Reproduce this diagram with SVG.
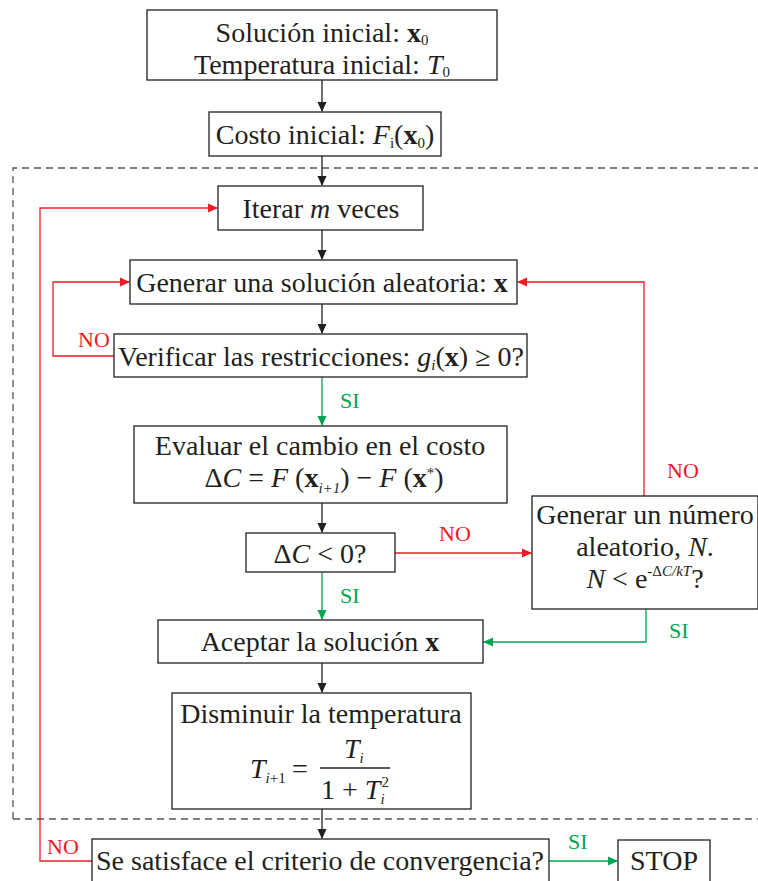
<svg xmlns="http://www.w3.org/2000/svg" width="758" height="881" viewBox="0 0 758 881">
<style>
text{font-family:"Liberation Serif","Times New Roman",serif;font-size:28px;fill:#231f20}
.box{fill:#fff;stroke:#231f20;stroke-width:1.3}
.k{stroke:#231f20;stroke-width:1.3;fill:none}
.r{stroke:#ed1c24;stroke-width:1.3;fill:none}
.g{stroke:#00a651;stroke-width:1.3;fill:none}
.lr{fill:#ed1c24;font-size:22px}
.lg{fill:#00a651;font-size:22px}
.i{font-style:italic}
.b{font-weight:bold}
.s{font-size:15px}
</style>
<defs>
<marker id="ak" markerWidth="10" markerHeight="10" refX="9" refY="5" orient="auto" markerUnits="userSpaceOnUse"><path d="M0,0.5 L10,5 L0,9.5 Z" fill="#231f20"/></marker>
<marker id="ar" markerWidth="10" markerHeight="10" refX="9" refY="5" orient="auto" markerUnits="userSpaceOnUse"><path d="M0,0.5 L10,5 L0,9.5 Z" fill="#ed1c24"/></marker>
<marker id="ag" markerWidth="10" markerHeight="10" refX="9" refY="5" orient="auto" markerUnits="userSpaceOnUse"><path d="M0,0.5 L10,5 L0,9.5 Z" fill="#00a651"/></marker>
</defs>
<rect width="758" height="881" fill="#fff"/>
<path d="M13,819 V168 H758 M13,819 H758" fill="none" stroke="#555" stroke-width="1.3" stroke-dasharray="7,5"/>
<g id="connectors">
<path class="k" d="M322,80 V111" marker-end="url(#ak)"/>
<path class="k" d="M322,156 V185" marker-end="url(#ak)"/>
<path class="k" d="M322,230 V259" marker-end="url(#ak)"/>
<path class="k" d="M322,304 V333" marker-end="url(#ak)"/>
<path class="g" d="M322,377 V425" marker-end="url(#ag)"/>
<path class="k" d="M322,503 V532" marker-end="url(#ak)"/>
<path class="g" d="M322,572 V619" marker-end="url(#ag)"/>
<path class="k" d="M322,663 V692" marker-end="url(#ak)"/>
<path class="k" d="M322,809 V838" marker-end="url(#ak)"/>
<path class="r" d="M114,356 H53 V282 H129" marker-end="url(#ar)"/>
<path class="r" d="M644,496 V282 H518" marker-end="url(#ar)"/>
<path class="r" d="M395,553 H531" marker-end="url(#ar)"/>
<path class="g" d="M646,609 V642 H484" marker-end="url(#ag)"/>
<path class="r" d="M92,861 H40 V208 H217" marker-end="url(#ar)"/>
<path class="g" d="M549,861 H617" marker-end="url(#ag)"/>
<text class="lr" x="78" y="347">NO</text>
<text class="lg" x="340" y="408">SI</text>
<text class="lr" x="439" y="541">NO</text>
<text class="lg" x="340" y="603">SI</text>
<text class="lr" x="667" y="478">NO</text>
<text class="lg" x="669" y="638">SI</text>
<text class="lr" x="47" y="854">NO</text>
<text class="lg" x="568" y="849">SI</text>
</g>
<g id="n-inicio">
<rect class="box" x="147" y="10" width="350" height="70"/>
<text x="322" y="42" text-anchor="middle">Solución inicial: <tspan class="b">x</tspan><tspan class="s" dy="3">0</tspan></text>
<text x="322" y="74" text-anchor="middle">Temperatura inicial: <tspan class="i">T</tspan><tspan class="s" dy="3">0</tspan></text>
</g>
<g id="n-costo">
<rect class="box" x="209" y="112" width="232" height="44"/>
<text x="325" y="144" text-anchor="middle">Costo inicial: <tspan class="i">F</tspan><tspan class="s" dy="4">i</tspan><tspan dy="-4">(</tspan><tspan class="b">x</tspan><tspan class="s" dy="4">0</tspan><tspan dy="-4">)</tspan></text>
</g>
<g id="n-iterar">
<rect class="box" x="218" y="186" width="205" height="44"/>
<text x="321" y="218" text-anchor="middle">Iterar <tspan class="i">m</tspan> veces</text>
</g>
<g id="n-generar">
<rect class="box" x="130" y="260" width="387" height="44"/>
<text x="322" y="292" text-anchor="middle">Generar una solución aleatoria: <tspan class="b">x</tspan></text>
</g>
<g id="n-verificar">
<rect class="box" x="114" y="334" width="413" height="43"/>
<text x="321" y="366" text-anchor="middle">Verificar las restricciones: <tspan class="i">g</tspan><tspan class="s i" dy="4">i</tspan><tspan dy="-4">(</tspan><tspan class="b">x</tspan>) ≥ 0?</text>
</g>
<g id="n-evaluar">
<rect class="box" x="134" y="426" width="373" height="77"/>
<text x="320" y="455" text-anchor="middle">Evaluar el cambio en el costo</text>
<text x="324" y="487" text-anchor="middle">Δ<tspan class="i">C</tspan> = <tspan class="i">F</tspan> (<tspan class="b">x</tspan><tspan class="s i" dy="6">i+1</tspan><tspan dy="-6">) − </tspan><tspan class="i">F</tspan> (<tspan class="b">x</tspan><tspan class="s" dy="-9">*</tspan><tspan dy="9">)</tspan></text>
</g>
<g id="n-delta">
<rect class="box" x="246" y="533" width="149" height="39"/>
<text x="320" y="563" text-anchor="middle">Δ<tspan class="i">C</tspan> &lt; 0?</text>
</g>
<g id="n-numero">
<rect class="box" x="532" y="496" width="226" height="113"/>
<text x="645" y="524" text-anchor="middle">Generar un número</text>
<text x="645" y="556" text-anchor="middle">aleatorio, <tspan class="i">N</tspan>.</text>
<text x="645" y="588" text-anchor="middle"><tspan class="i">N</tspan> &lt; e<tspan class="s" dy="-12">-Δ</tspan><tspan class="s i">C/kT</tspan><tspan dy="12">?</tspan></text>
</g>
<g id="n-aceptar">
<rect class="box" x="158" y="620" width="325" height="43"/>
<text x="320" y="651" text-anchor="middle">Aceptar la solución <tspan class="b">x</tspan></text>
</g>
<g id="n-disminuir">
<rect class="box" x="172" y="693" width="299" height="116"/>
<text x="321" y="723" text-anchor="middle">Disminuir la temperatura</text>
<text x="250" y="778" class="i">T<tspan class="s" dy="5">i</tspan><tspan class="s" font-style="normal">+1</tspan></text>
<text x="292" y="778" font-size="32">=</text>
<line x1="320" y1="768" x2="390" y2="768" stroke="#231f20" stroke-width="1.3"/>
<text x="344" y="758" class="i">T<tspan class="s" dy="5">i</tspan></text>
<text x="321" y="799">1 + <tspan class="i">T</tspan><tspan class="s i" dy="5">i</tspan><tspan class="s" dx="-3" dy="-17">2</tspan></text>
</g>
<g id="n-convergencia">
<rect class="box" x="92" y="839" width="457" height="50"/>
<text x="320" y="870" text-anchor="middle">Se satisface el criterio de convergencia?</text>
</g>
<g id="n-stop">
<rect class="box" x="618" y="840" width="92" height="50"/>
<text x="664" y="870" text-anchor="middle">STOP</text>
</g>
</svg>
